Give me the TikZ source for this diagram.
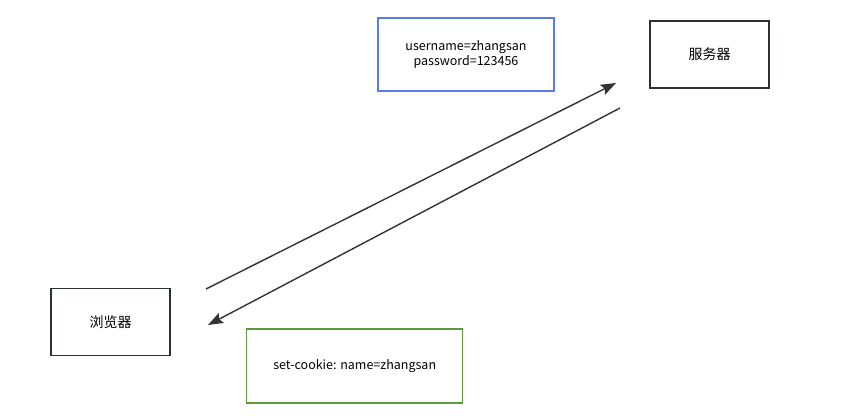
\documentclass[tikz,border=0pt]{standalone}
\usepackage{fontspec}
\setmainfont{Noto Sans CJK SC}
\usetikzlibrary{arrows.meta}
\definecolor{boxdark}{HTML}{2B3033}
\definecolor{boxblue}{HTML}{5B7CE6}
\definecolor{boxgreen}{HTML}{5E9A3C}
\definecolor{arrowc}{HTML}{333333}
\begin{document}
\begin{tikzpicture}[x=1pt,y=-1pt,
  box/.style={draw=boxdark,line width=1.5pt,inner sep=0pt,font=\fontsize{14}{16}\selectfont},
  msg/.style={line width=1.5pt,inner sep=0pt,align=center,font=\fontsize{12.5}{14.5}\selectfont},
  conn/.style={draw=arrowc,line width=1.4pt,-{Stealth[length=15pt,width=11pt,inset=2.5pt]}}]
\useasboundingbox (0,0) rectangle (862,420);
\node[box,minimum width=119pt,minimum height=67pt] (srv) at (709.5,54.5) {服务器};
\node[box,minimum width=119pt,minimum height=67pt] (brw) at (110.5,322) {浏览器};
\node[msg,draw=boxblue,minimum width=176pt,minimum height=73pt] (req) at (466,54.5) {username=zhangsan\\password=123456};
\node[msg,draw=boxgreen,minimum width=216pt,minimum height=74pt] (res) at (354.7,366) {set-cookie: name=zhangsan};
\coordinate (a1s) at (206,289);
\coordinate (a1e) at (616,83);
\coordinate (a2s) at (620,108);
\coordinate (a2e) at (208,325);
\draw[conn] (a1s) -- (a1e);
\draw[conn] (a2s) -- (a2e);
\end{tikzpicture}
\end{document}
